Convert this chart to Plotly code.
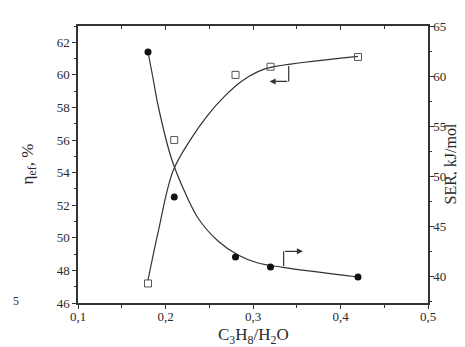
import plotly.graph_objects as go

# measured data
x_pts = [0.18, 0.21, 0.28, 0.32, 0.42]
eta_pts = [47.2, 56.0, 60.0, 60.5, 61.1]          # squares, left axis
ser_pts = [62.4, 47.9, 41.9, 40.9, 39.9]          # circles, right axis

# fitted curves
eta_fit_x = [0.18, 0.1914, 0.2086, 0.2295, 0.2486, 0.2677, 0.2866, 0.3057, 0.3202, 0.42]
eta_fit_y = [47.4, 50.3, 54.1, 56.1, 57.55, 58.7, 59.6, 60.2, 60.46, 61.13]
ser_fit_x = [0.18, 0.1857, 0.1914, 0.2066, 0.22, 0.2371, 0.26, 0.2829, 0.3057, 0.3343, 0.42]
ser_fit_y = [62.4, 59.8, 57.1, 51.8, 48.8, 45.8, 43.5, 42.1, 41.3, 40.87, 39.9]

x_ticks = [0.1, 0.2, 0.3, 0.4, 0.5]
x_ticklabels = ["0,1", "0,2", "0,3", "0,4", "0,5"]

LC = "#333333"
TC = "#2a2a2a"
FONT = "Liberation Serif"

fig = go.Figure()
fig.add_trace(go.Scatter(x=eta_fit_x, y=eta_fit_y, mode="lines", line=dict(color=LC, width=1.2, shape="spline"),
                         showlegend=False, hoverinfo="skip"))
fig.add_trace(go.Scatter(x=ser_fit_x, y=ser_fit_y, mode="lines", yaxis="y2",
                         line=dict(color=LC, width=1.2, shape="spline"), showlegend=False, hoverinfo="skip"))
fig.add_trace(go.Scatter(x=x_pts, y=eta_pts, mode="markers",
                         marker=dict(symbol="square-open", size=7, color="#555555", line=dict(width=1)),
                         showlegend=False))
fig.add_trace(go.Scatter(x=x_pts, y=ser_pts, mode="markers", yaxis="y2",
                         marker=dict(symbol="circle", size=7, color="#111111"), showlegend=False))
# dummy trace for top axis
fig.add_trace(go.Scatter(x=[0.1], y=[50], xaxis="x2", mode="markers", marker=dict(opacity=0),
                         showlegend=False, hoverinfo="skip"))

# bracket arrows
fig.add_shape(type="line", x0=0.3408, x1=0.3408, y0=60.54, y1=59.6, line=dict(color=LC, width=1.2))
fig.add_annotation(x=0.319, y=59.6, ax=0.3408, ay=59.6, axref="x", ayref="y", text="",
                   showarrow=True, arrowhead=2, arrowsize=1, arrowwidth=1.2, arrowcolor=LC)
fig.add_shape(type="line", x0=0.335, x1=0.335, y0=48.27, y1=49.17, line=dict(color=LC, width=1.2))
fig.add_annotation(x=0.357, y=49.17, ax=0.335, ay=49.17, axref="x", ayref="y", text="",
                   showarrow=True, arrowhead=2, arrowsize=1, arrowwidth=1.2, arrowcolor=LC)

# axis titles as annotations
fig.add_annotation(x=0.5, y=0, xref="paper", yref="paper", yshift=-33, yanchor="middle", xanchor="center",
                   text="C<sub>3</sub>H<sub>8</sub>/H<sub>2</sub>O", showarrow=False,
                   font=dict(family=FONT, size=17, color=TC))
fig.add_annotation(x=0, y=0.5, xref="paper", yref="paper", xshift=-50, xanchor="center", yanchor="middle",
                   text="η<sub>ef</sub>, %", textangle=-90, showarrow=False,
                   font=dict(family=FONT, size=17, color=TC))
fig.add_annotation(x=1, y=0.5, xref="paper", yref="paper", xshift=22, xanchor="center", yanchor="middle",
                   text="SER, kJ/mol", textangle=-90, showarrow=False,
                   font=dict(family=FONT, size=16, color=TC))
# stray text at left edge
fig.add_annotation(x=0, y=0, xref="paper", yref="paper", xshift=-62, yshift=2, xanchor="center",
                   yanchor="middle", text="5", showarrow=False, font=dict(family=FONT, size=12, color=TC))

axis_common = dict(showgrid=False, zeroline=False, showline=True, linecolor=LC, linewidth=1.5,
                   tickcolor=LC, tickfont=dict(family=FONT, size=13, color=TC))

fig.update_layout(
    width=465, height=347,
    margin=dict(l=70, r=45, t=18, b=52),
    paper_bgcolor="white", plot_bgcolor="white",
    xaxis=dict(range=[0.1, 0.5], tickvals=x_ticks, ticktext=x_ticklabels, ticks="outside", ticklen=4,
               ticklabelstandoff=-3,
               minor=dict(dtick=0.05, tick0=0.1, ticks="outside", ticklen=3, tickcolor=LC),
               **axis_common),
    xaxis2=dict(range=[0.1, 0.5], overlaying="x", side="top", tickvals=x_ticks, ticks="inside", ticklen=4,
                showticklabels=False, minor=dict(dtick=0.05, tick0=0.1, ticks="inside", ticklen=3, tickcolor=LC),
                **axis_common),
    yaxis=dict(range=[46, 63], tickvals=list(range(46, 63, 2)), ticks="outside", ticklen=4,
               minor=dict(dtick=1, tick0=46, ticks="outside", ticklen=2, tickcolor=LC),
               **axis_common),
    yaxis2=dict(range=[37.3, 65], overlaying="y", side="right", tickvals=[40, 45, 50, 55, 60, 65],
                ticks="outside", ticklen=4, ticklabelstandoff=-3,
                minor=dict(dtick=2.5, tick0=40, ticks="outside", ticklen=2, tickcolor=LC),
                **axis_common),
)

fig.write_html("out.html")
